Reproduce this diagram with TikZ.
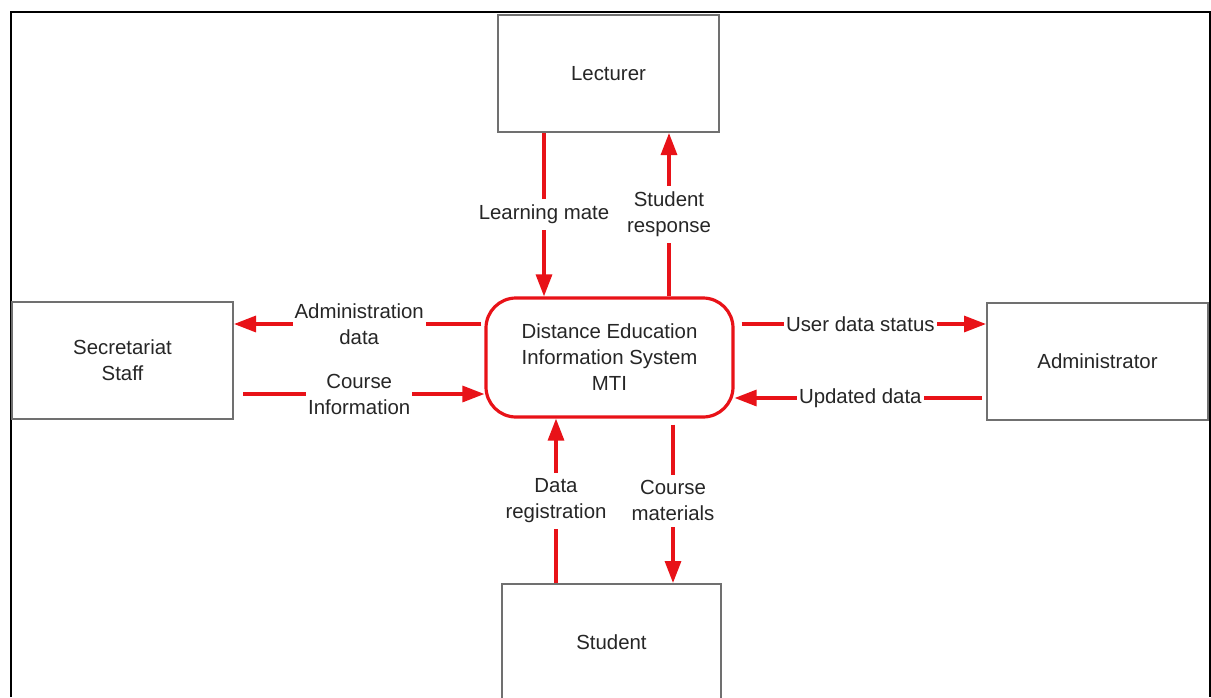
\documentclass[tikz,border=0pt]{standalone}
\usepackage{fontspec}
\setmainfont{Liberation Sans}
\usetikzlibrary{arrows.meta}
\definecolor{flowred}{RGB}{232,18,24}
\definecolor{boxgray}{RGB}{112,112,112}
\definecolor{txt}{RGB}{38,38,38}
\begin{document}
\begin{tikzpicture}[x=0.5pt,y=-0.5pt,
  every node/.style={font=\fontsize{10.2pt}{13pt}\selectfont, text=txt},
  entity/.style={draw=boxgray, line width=1pt, fill=white, align=center, inner sep=0pt},
  proc/.style={draw=flowred, line width=1.6pt, rounded corners=15pt, fill=white, align=center, inner sep=0pt,
    minimum width=123.5pt, minimum height=59.5pt},
  flow/.style={draw=flowred, line width=1.6pt, -{Triangle[length=11pt,width=8pt]}},
  lbl/.style={fill=white, align=center, inner xsep=1pt, inner ysep=3pt}]
\useasboundingbox (0,0) rectangle (1211,697);
\fill[white] (0,0) rectangle (1211,697);
% outer frame
\draw[line width=1pt] (11,697) -- (11,12) -- (1210,12) -- (1210,697);
% entities
\node[entity, minimum width=110.5pt, minimum height=58.5pt] (lect) at (608.5,73.5) {Lecturer};
\node[entity, minimum width=109.5pt, minimum height=58pt] (stud) at (611.5,642) {Student};
\node[entity, minimum width=110.5pt, minimum height=58.5pt] (sec) at (122.5,360.5) {Secretariat\\Staff};
\node[entity, minimum width=110.5pt, minimum height=58.5pt] (adm) at (1097.5,361.5) {Administrator};
\node[proc] (sys) at (609.5,357.5) {Distance Education\\Information System\\MTI};
% helper coordinates
\coordinate (xlm) at (544,0);
\coordinate (xsr) at (669,0);
\coordinate (xdr) at (556,0);
\coordinate (xcm) at (673,0);
\coordinate (yad) at (0,324);
\coordinate (yci) at (0,394);
\coordinate (yus) at (0,324);
\coordinate (yud) at (0,398);
% flows
\draw[flow] (lect.south -| xlm) -- node[lbl]{Learning mate} (sys.north -| xlm);
\draw[flow] (sys.north -| xsr) -- node[lbl]{Student\\response} (lect.south -| xsr);
\draw[flow, shorten <=1.5pt] (sys.west |- yad) -- node[lbl]{Administration\\data} (sec.east |- yad);
\draw[flow, shorten <=4.5pt] (sec.east |- yci) -- node[lbl]{Course\\Information} (sys.west |- yci);
\draw[flow, shorten <=3.5pt] (sys.east |- yus) -- node[lbl]{User data status} (adm.west |- yus);
\draw[flow, shorten <=2pt] (adm.west |- yud) -- node[lbl]{Updated data} (sys.east |- yud);
\draw[flow] (stud.north -| xdr) -- node[lbl]{Data\\registration} (sys.south -| xdr);
\draw[flow, shorten <=3pt] (sys.south -| xcm) -- node[lbl]{Course\\materials} (stud.north -| xcm);
\end{tikzpicture}
\end{document}
